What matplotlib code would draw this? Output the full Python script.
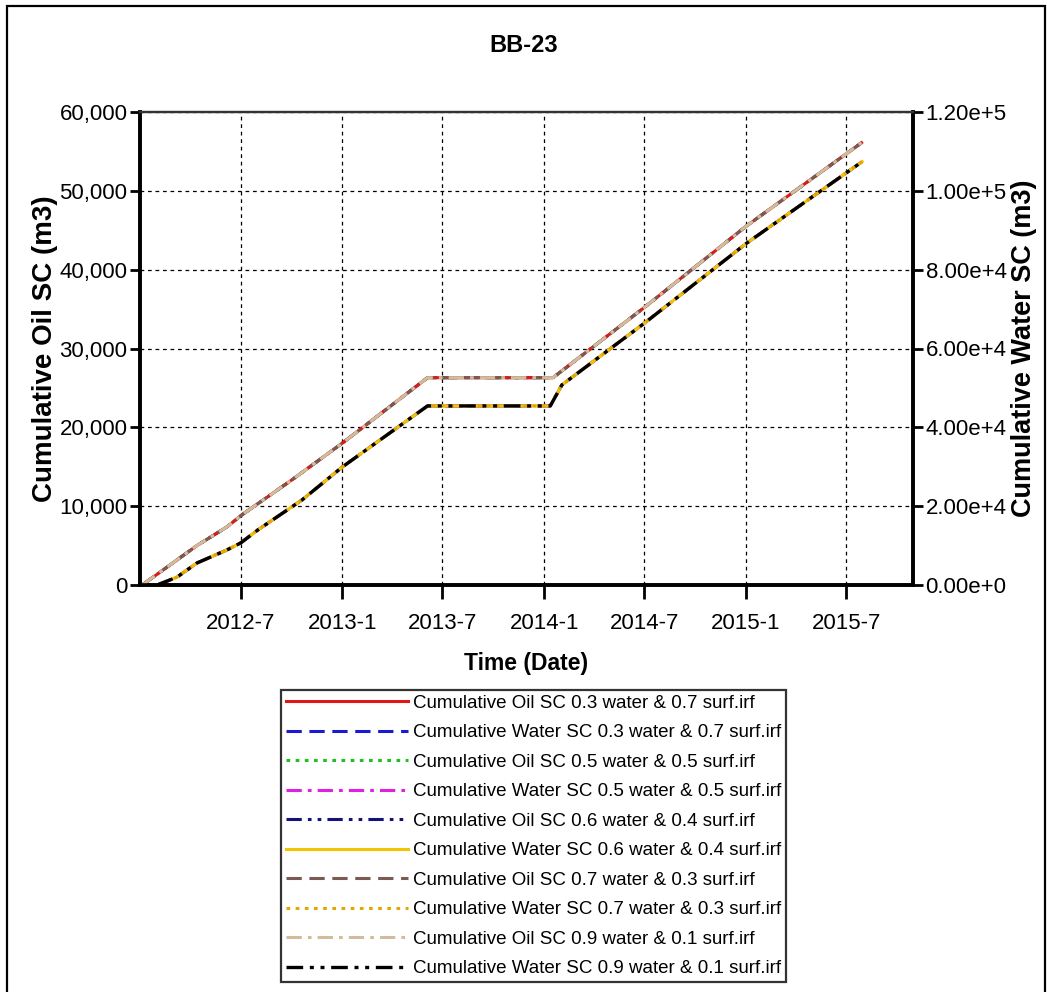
import datetime as dt
import matplotlib
matplotlib.use("Agg")
import matplotlib.pyplot as plt
import matplotlib.dates as mdates
from matplotlib.ticker import FuncFormatter, FixedLocator
from matplotlib.patches import Rectangle

plt.rcParams['font.family'] = ['Liberation Sans', 'DejaVu Sans']

# ---- data -------------------------------------------------------------
oil_dates = ["2012-01-05", "2012-04-13", "2012-06-06", "2012-07-03", "2012-10-01",
             "2013-01-01", "2013-06-04", "2014-01-17", "2014-07-01", "2015-01-01",
             "2015-07-29"]
oil_cum = [0, 5000, 7360, 8880, 13300, 18000, 26300, 26300, 35200, 45500, 56100]

water_dates = ["2012-02-01", "2012-03-08", "2012-04-13", "2012-06-06", "2012-07-01",
               "2012-08-01", "2012-10-20", "2013-01-01", "2013-06-04", "2014-01-12",
               "2014-02-02", "2014-07-01", "2015-01-01", "2015-07-30"]
water_cum = [0, 2000, 5580, 8880, 10660, 13960, 21570, 29950, 45430, 45430,
             50760, 66400, 86600, 107400]

series_labels = [
    "Cumulative Oil SC 0.3 water & 0.7 surf.irf",
    "Cumulative Water SC 0.3 water & 0.7 surf.irf",
    "Cumulative Oil SC 0.5 water & 0.5 surf.irf",
    "Cumulative Water SC 0.5 water & 0.5 surf.irf",
    "Cumulative Oil SC 0.6 water & 0.4 surf.irf",
    "Cumulative Water SC 0.6 water & 0.4 surf.irf",
    "Cumulative Oil SC 0.7 water & 0.3 surf.irf",
    "Cumulative Water SC 0.7 water & 0.3 surf.irf",
    "Cumulative Oil SC 0.9 water & 0.1 surf.irf",
    "Cumulative Water SC 0.9 water & 0.1 surf.irf",
]
series_kind = ["oil", "water"] * 5

x_tick_dates = ["2012-07-01", "2013-01-01", "2013-07-01", "2014-01-01",
                "2014-07-01", "2015-01-01", "2015-07-01"]
oil_ticks = [0, 10000, 20000, 30000, 40000, 50000, 60000]
water_ticks = [0, 20000, 40000, 60000, 80000, 100000, 120000]

# ---- styles (z decides which overlapping curve shows through) ----------
styles = [
    dict(color="#e01818", ls="-", lw=2.2, z=2.3),
    dict(color="#1a1ad0", ls=(0, (5, 2.5)), lw=2.2, z=2.0),
    dict(color="#20c020", ls=(0, (1.2, 1.8)), lw=2.2, z=2.1),
    dict(color="#e020e0", ls=(0, (5, 2, 1.2, 2)), lw=2.2, z=2.1),
    dict(color="#12127a", ls=(0, (5, 2, 1.2, 2, 1.2, 2)), lw=2.2, z=2.0),
    dict(color="#f4c400", ls="-", lw=2.2, z=2.3),
    dict(color="#7a5a52", ls=(0, (5, 2.5)), lw=2.2, z=2.4),
    dict(color="#e0a800", ls=(0, (1.2, 1.8)), lw=2.2, z=2.4),
    dict(color="#d2bc9c", ls=(0, (5, 2, 1.2, 2)), lw=2.2, z=2.6),
    dict(color="#000000", ls=(0, (5, 2, 1.2, 2, 1.2, 2)), lw=2.4, z=2.6),
]


def to_dates(items):
    return [dt.datetime.strptime(s, "%Y-%m-%d") for s in items]


fig = plt.figure(figsize=(10.47, 9.92), dpi=100)
fig.patch.set_facecolor("white")

# outer frame around the whole chart
fig.add_artist(Rectangle((7 / 1047, -0.02), (1045 - 7) / 1047, 1 - 6 / 992 + 0.02,
                         transform=fig.transFigure, fill=False,
                         edgecolor="black", lw=1.6, zorder=0))

ax = fig.add_axes([140 / 1047, 1 - 585 / 992, (913 - 140) / 1047, (585 - 112) / 992])
ax2 = ax.twinx()

handles = []
for label, kind, st in zip(series_labels, series_kind, styles):
    if kind == "oil":
        h, = ax.plot(to_dates(oil_dates), oil_cum, color=st["color"],
                     linestyle=st["ls"], lw=st["lw"], zorder=st["z"], label=label)
    else:
        h, = ax2.plot(to_dates(water_dates), water_cum, color=st["color"],
                      linestyle=st["ls"], lw=st["lw"], zorder=st["z"], label=label)
    handles.append(h)

ax.set_xlim(dt.datetime(2012, 1, 1), dt.datetime(2015, 10, 30))
ax.set_ylim(0, 60000)
ax2.set_ylim(0, 120000)

xt = [mdates.date2num(d) for d in to_dates(x_tick_dates)]
ax.xaxis.set_major_locator(FixedLocator(xt))
ax.xaxis.set_major_formatter(FuncFormatter(
    lambda v, p: "{}-{}".format(mdates.num2date(v).year, mdates.num2date(v).month)))
ax.yaxis.set_major_locator(FixedLocator(oil_ticks))
ax.yaxis.set_major_formatter(FuncFormatter(lambda v, p: "{:,.0f}".format(v)))
ax2.yaxis.set_major_locator(FixedLocator(water_ticks))


def sci_fmt(v, p):
    if v == 0:
        return "0.00e+0"
    s = "{:.2e}".format(v)
    mant, exp = s.split("e")
    return "{}e{}{}".format(mant, exp[0], int(exp[1:]))


ax2.yaxis.set_major_formatter(FuncFormatter(sci_fmt))

ax.grid(True, color="black", linestyle=(0, (3, 3)), lw=0.9)
ax.set_axisbelow(True)

tick_fs = 16
ax.tick_params(axis="x", direction="out", length=10, width=2, labelsize=tick_fs, pad=10)
ax.tick_params(axis="y", direction="out", length=7, width=2, labelsize=tick_fs, pad=2)
ax2.tick_params(axis="y", direction="out", length=7, width=2, labelsize=tick_fs, pad=2)

for a in (ax, ax2):
    a.spines["left"].set_linewidth(2.6)
    a.spines["bottom"].set_linewidth(2.6)
    a.spines["right"].set_linewidth(2.6)
    a.spines["top"].set_linewidth(1.6)
    a.spines["top"].set_color("#333333")

ax.set_ylabel("Cumulative Oil SC (m3)", fontsize=20, fontweight="bold")
ax.yaxis.set_label_coords(-0.106, 0.5)
ax2.set_ylabel("Cumulative Water SC (m3)", rotation=90, fontsize=19.5, fontweight="bold")
ax2.yaxis.set_label_coords(1.127, 0.5)
ax.set_xlabel("Time (Date)", fontsize=16.5, fontweight="bold")
ax.xaxis.set_label_coords(0.5, -0.142)

fig.text(0.5, 1 - 45 / 992, "BB-23", ha="center", va="center",
         fontsize=17, fontweight="bold")

leg = fig.legend(handles=handles, loc="upper left",
                 bbox_to_anchor=(281 / 1047, 1 - 690 / 992),
                 bbox_transform=fig.transFigure, borderaxespad=0,
                 fontsize=13.5, handlelength=6.5, handletextpad=0.3,
                 labelspacing=0.66, borderpad=0.25, fancybox=False,
                 edgecolor="#333333", framealpha=1)
leg.get_frame().set_linewidth(1.6)

fig.savefig("out.png", dpi=100, facecolor="white")
